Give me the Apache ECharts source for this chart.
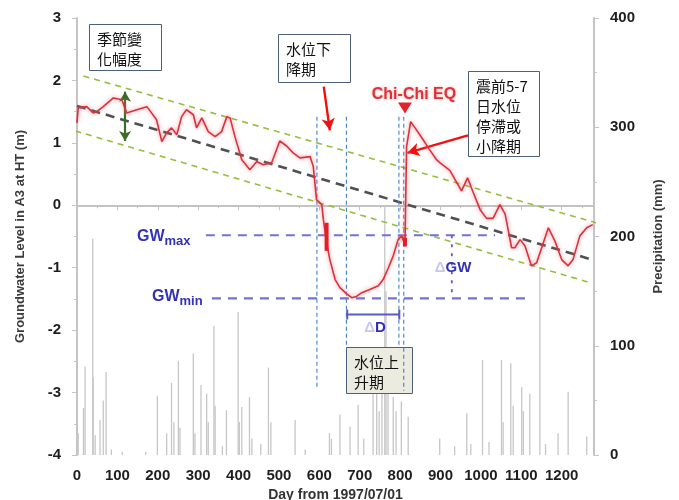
<!DOCTYPE html>
<html>
<head>
<meta charset="utf-8">
<script src="https://cdn.jsdelivr.net/npm/echarts@6/dist/echarts.min.js"></script>
<style>
html, body { margin: 0; padding: 0; background: #ffffff; }
#chart { width: 679px; height: 500px; }
</style>
</head>
<body>
<div id="chart"></div>
<script>
// Groundwater level at well A3 (m), days counted from 1997/07/01
const gwDays = [0, 3, 24, 40, 49, 65, 90, 111, 123, 148, 173, 197, 210, 222, 234, 247, 259, 271, 288, 296,
  309, 325, 342, 358, 371, 379, 391, 408, 428, 445, 461, 482, 502, 519, 535, 552, 577, 585, 593, 606,
  610, 618, 626, 639, 651, 668, 680, 692, 705, 725, 746, 758, 771, 783, 795, 804, 812, 816, 826, 837,
  857, 872, 890, 899, 923, 952, 967, 980, 998, 1014, 1030, 1047, 1060, 1076, 1084, 1097, 1109, 1125, 1138, 1167,
  1183, 1200, 1216, 1228, 1245, 1262, 1277];
const gwLevels = [1.32, 1.56, 1.58, 1.48, 1.50, 1.58, 1.72, 1.69, 1.48, 1.53, 1.58, 1.37, 1.02, 1.16, 1.24, 1.13, 1.42, 1.53, 1.45, 1.24,
  1.40, 1.18, 1.10, 1.18, 1.42, 1.40, 1.10, 0.73, 0.57, 0.70, 0.65, 0.68, 1.03, 0.95, 0.84, 0.76, 0.78, 0.62, 0.09, 0.01,
  -0.23, -0.60, -0.87, -1.19, -1.32, -1.42, -1.48, -1.46, -1.40, -1.35, -1.29, -1.19, -1.00, -0.81, -0.55, -0.49, -0.63, 0.94, 1.34, 1.24,
  1.05, 0.90, 0.73, 0.68, 0.56, 0.23, 0.44, 0.22, -0.07, -0.21, -0.21, 0.01, -0.14, -0.68, -0.68, -0.55, -0.65, -0.97, -0.92, -0.36,
  -0.57, -0.87, -0.97, -0.87, -0.49, -0.36, -0.31];

// Daily precipitation (mm)
const rainDays = [3, 16, 20, 39, 40, 45, 57, 65, 72, 85, 112, 170, 199, 222, 234, 240, 251, 255, 288, 292,
  307, 321, 325, 339, 342, 360, 370, 399, 402, 408, 427, 433, 455, 474, 480, 540, 565, 625, 630, 651,
  676, 696, 710, 733, 742, 748, 755, 762, 765, 770, 783, 790, 803, 820, 898, 935, 965, 975, 1004, 1020,
  1051, 1055, 1074, 1080, 1101, 1105, 1121, 1146, 1160, 1191, 1216, 1262];
const rainMm = [20, 43, 81, 198, 71, 18, 32, 50, 76, 5, 3, 3, 54, 20, 66, 30, 86, 25, 93, 20,
  64, 56, 30, 118, 45, 8, 41, 131, 30, 44, 53, 15, 10, 80, 30, 32, 5, 20, 15, 37,
  26, 46, 15, 56, 68, 40, 96, 227, 150, 60, 53, 40, 49, 35, 15, 8, 38, 10, 87, 12,
  87, 30, 84, 45, 62, 40, 56, 172, 10, 20, 58, 17];

// Long-term decline and seasonal envelope [day, level]
const trendMid = [[0, 1.59], [1280, -0.88]];
const trendUpper = [[16, 2.07], [1296, -0.30]];
const trendLower = [[-4, 1.19], [1276, -1.25]];

// Phase boundaries (day) and their vertical extent (m)
const phaseDays = [594, 667, 797, 809];
const phaseTop = [1.42, 1.42, 1.42, 1.42];
const phaseBottom = [-2.91, -2.25, -2.25, -2.97];

// GW max / GW min reference levels
const gwMaxLine = [[319, -0.48], [1035, -0.48]];
const gwMinLine = [[334, -1.49], [1121, -1.49]];
const deltaGW = [[928, -0.48], [928, -1.49]];
const deltaD = [[669, -1.75], [798, -1.75]];

// Emphasised short segments of the record
const emphasis = [
  [[618, -0.28], [618, -0.73]],
  [[812, -0.52], [812, -0.66]]
];
const quakeDay = 812;

const xLabels = [0, 100, 200, 300, 400, 500, 600, 700, 800, 900, 1000, 1100, 1200];

const chart = echarts.init(document.getElementById('chart'), null, { renderer: 'canvas' });

const tickFont = { fontFamily: 'Liberation Sans, Arial, sans-serif', fontWeight: 'bold', fontSize: 15, color: '#1e1e1e' };
const axisGray = '#c4c4c4';
const cjk = '"Noto Sans CJK TC", "Noto Sans CJK SC", sans-serif';

function pairs(xs, ys) { return xs.map((x, i) => [x, ys[i]]); }

const series = [];

series.push({
  name: 'Precipitation', type: 'bar', xAxisIndex: 0, yAxisIndex: 1,
  data: pairs(rainDays, rainMm), barWidth: 1.3, barGap: '-100%',
  itemStyle: { color: '#c6c6c6' }, z: 1, silent: true
});

function dashed(data, color, width, dash, z) {
  return { type: 'line', data: data, symbol: 'none', clip: false, silent: true, z: z || 3,
    lineStyle: { color: color, width: width, type: dash } };
}

series.push(dashed(trendUpper, '#93bf3c', 1.6, [6, 5]));
series.push(dashed(trendLower, '#93bf3c', 1.6, [6, 5]));
series.push(dashed(trendMid, '#505050', 2.6, [9, 6]));

phaseDays.forEach((d, i) => {
  series.push(dashed([[d, phaseTop[i]], [d, phaseBottom[i]]], '#3f7fcf', 1.1, [4, 3], 4));
});

series.push(dashed(gwMaxLine, '#7272d6', 2.2, [9, 7]));
series.push(dashed(gwMinLine, '#7272d6', 2.2, [9, 7]));
series.push(dashed(deltaGW, '#5c5cc8', 1.8, [3, 6]));
series.push({ type: 'line', data: deltaD, symbol: 'rect', symbolSize: [2, 10], silent: true, z: 4,
  itemStyle: { color: '#5a5ac4' }, lineStyle: { color: '#5a5ac4', width: 2 } });

series.push({
  name: 'Groundwater', type: 'line', data: pairs(gwDays, gwLevels), symbol: 'none', z: 6, silent: true,
  lineStyle: { color: '#d8323c', width: 1.6, shadowColor: 'rgba(238,110,120,0.8)', shadowBlur: 4 },
  markPoint: {
    silent: true,
    data: [{ coord: [quakeDay, 1.56], symbol: 'triangle', symbolRotate: 180, symbolSize: [14, 11] }],
    itemStyle: { color: '#e0242c' }, label: { show: false }
  }
});

emphasis.forEach(seg => {
  series.push({ type: 'line', data: seg, symbol: 'none', silent: true, z: 7,
    lineStyle: { color: '#e41e26', width: 4 } });
});

// Annotation arrows
series.push({
  type: 'line', data: [], silent: true, z: 8,
  markLine: {
    silent: true, animation: false,
    symbol: ['none', 'arrow'], symbolSize: [10, 12],
    label: { show: false },
    lineStyle: { color: '#f01010', width: 2.4, type: 'solid' },
    data: [
      [{ coord: [611, 1.90] }, { coord: [626, 1.20] }],
      [{ coord: [968, 1.12] }, { coord: [818, 0.84] }]
    ]
  }
});
series.push({
  type: 'line', data: [], silent: true, z: 8,
  markLine: {
    silent: true, animation: false,
    symbol: ['arrow', 'arrow'], symbolSize: [9, 10],
    label: { show: false },
    lineStyle: { color: '#3d6b28', width: 2.2, type: 'solid' },
    data: [[{ coord: [119, 1.82] }, { coord: [119, 1.03] }]]
  }
});

function box(x, y, w, h, lines, fill) {
  return [
    { type: 'rect', z: 2, shape: { x: x, y: y, width: w, height: h },
      style: { fill: fill || '#ffffff', stroke: '#4c6079', lineWidth: 1 } },
    { type: 'text', z: 2, style: { x: x + 7.5, y: y + 5, text: lines.join('\n'), font: '15px ' + cjk,
      fill: '#111111', lineHeight: 20, textVerticalAlign: 'top' } }
  ];
}

const labelBlue = '#3232b6';
const lf = '"Liberation Sans", Arial, sans-serif';
const bigPart = { fontSize: 16, fontWeight: 'bold', fontFamily: lf, fill: labelBlue };
const subPart = { fontSize: 13, fontWeight: 'bold', fontFamily: lf, fill: labelBlue, padding: [8, 0, 0, 0] };
const deltaPart = { fontSize: 15, fontWeight: 'bold', fontFamily: lf, fill: '#c8c8ee' };
const deltaText = { fontSize: 15, fontWeight: 'bold', fontFamily: lf, fill: labelBlue };

const graphics = [].concat(
  box(89.5, 24.5, 72, 46, ['季節變', '化幅度']),
  box(278.5, 34.5, 72, 48, ['水位下', '降期']),
  box(468.5, 71.5, 71, 85, ['震前5-7', '日水位', '停滯或', '小降期']),
  box(346.5, 347.5, 66, 46, ['水位上', '升期'], '#ecebdf'),
  [
    { type: 'text', z: 9, style: { x: 414, y: 95, text: 'Chi-Chi EQ', textAlign: 'center', textVerticalAlign: 'middle',
      font: 'bold 16px ' + lf, fill: '#e03038',
      textShadowColor: 'rgba(240,120,120,0.6)', textShadowBlur: 3 } },
    { type: 'text', z: 9, style: { x: 137, y: 237, textVerticalAlign: 'middle',
      rich: { a: bigPart, b: subPart }, text: '{a|GW}{b|max}' } },
    { type: 'text', z: 9, style: { x: 152, y: 297, textVerticalAlign: 'middle',
      rich: { a: bigPart, b: subPart }, text: '{a|GW}{b|min}' } },
    { type: 'text', z: 9, style: { x: 453, y: 268, textAlign: 'center', textVerticalAlign: 'middle',
      rich: { a: deltaPart, b: deltaText }, text: '{a|Δ}{b|GW}' } },
    { type: 'text', z: 9, style: { x: 375, y: 328, textAlign: 'center', textVerticalAlign: 'middle',
      rich: { a: deltaPart, b: deltaText }, text: '{a|Δ}{b|D}' } }
  ]
);

chart.setOption({
  animation: false,
  backgroundColor: '#ffffff',
  grid: { left: 77, right: 85, top: 18, bottom: 45, containLabel: false, outerBoundsMode: 'none' },
  xAxis: {
    type: 'value', min: 0, max: 1280, interval: 100,
    name: 'Day from 1997/07/01', nameLocation: 'middle', nameGap: 30,
    nameTextStyle: { fontFamily: 'Liberation Sans', fontWeight: 'bold', fontSize: 14, color: '#333' },
    axisLine: { show: true, lineStyle: { color: axisGray, width: 2 } },
    axisTick: { show: true, length: 5, lineStyle: { color: axisGray } },
    minorTick: { show: true, splitNumber: 2, length: 3, lineStyle: { color: axisGray } },
    splitLine: { show: false },
    axisLabel: Object.assign({ margin: 13, showMaxLabel: false,
      formatter: v => (xLabels.indexOf(v) >= 0 ? String(v) : '') }, tickFont)
  },
  yAxis: [
    {
      type: 'value', min: -4, max: 3, interval: 1, position: 'left',
      name: 'Groundwater Level in A3 at HT (m)', nameLocation: 'middle', nameGap: 50, nameRotate: 90,
      nameTextStyle: { fontFamily: 'Liberation Sans', fontWeight: 'bold', fontSize: 13, color: '#3a3a3a' },
      axisLine: { show: true, lineStyle: { color: axisGray, width: 2 } },
      axisTick: { show: true, length: 5, lineStyle: { color: axisGray } },
      minorTick: { show: true, splitNumber: 2, length: 3, lineStyle: { color: axisGray } },
      splitLine: { show: false },
      axisLabel: Object.assign({ margin: 16 }, tickFont)
    },
    {
      type: 'value', min: 0, max: 400, interval: 100, position: 'right',
      name: 'Precipitation (mm)', nameLocation: 'middle', nameGap: 58, nameRotate: 90,
      nameTextStyle: { fontFamily: 'Liberation Sans', fontWeight: 'bold', fontSize: 13, color: '#3a3a3a' },
      axisLine: { show: true, lineStyle: { color: axisGray, width: 2 } },
      axisTick: { show: true, length: 5, lineStyle: { color: axisGray } },
      minorTick: { show: true, splitNumber: 2, length: 3, lineStyle: { color: axisGray } },
      splitLine: { show: false },
      axisLabel: Object.assign({ margin: 16 }, tickFont)
    }
  ],
  graphic: graphics,
  series: series
});
</script>
</body>
</html>
